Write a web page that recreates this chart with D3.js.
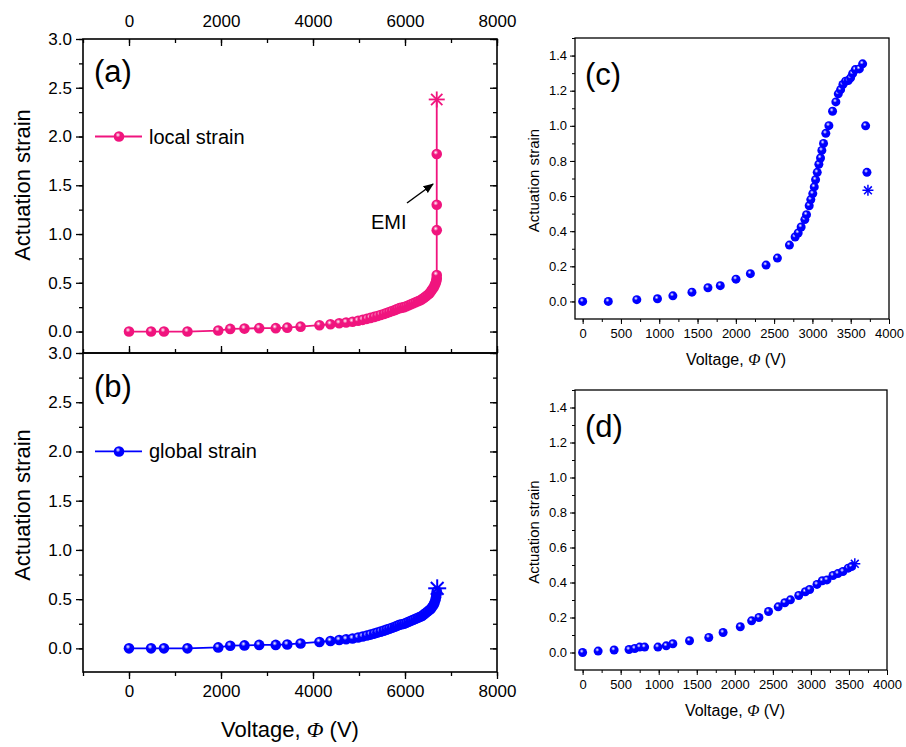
<!DOCTYPE html>
<html>
<head>
<meta charset="utf-8">
<script src="https://cdn.jsdelivr.net/npm/d3@7"></script>
<style>
  body { margin: 0; background: #fff; }
  text { font-family: Arial, "Liberation Sans", sans-serif; fill: #000; }
</style>
</head>
<body>
<svg id="fig" width="906" height="747"></svg>
<script>
// ---- data ----
// (a) local strain, (b) global strain vs voltage
let voltAB = [0, 480, 760, 1270, 1940, 2200, 2510, 2830, 3190, 3440, 3730, 4140, 4380, 4570, 4720,
  4860, 4980, 5080, 5170, 5250, 5330, 5400, 5470, 5540, 5600, 5660, 5720, 5780, 5830, 5880, 5930,
  5980, 6030, 6080, 6130, 6180, 6230, 6280, 6330, 6370, 6410, 6450, 6490, 6530, 6560, 6590, 6620,
  6640, 6660, 6675, 6685, 6690];
let localStrain = [0, 0, 0, 0, 0.01, 0.027, 0.03, 0.035, 0.035, 0.04, 0.05, 0.065, 0.075, 0.085, 0.093,
  0.10, 0.11, 0.12, 0.13, 0.14, 0.15, 0.16, 0.17, 0.18, 0.19, 0.20, 0.21, 0.22, 0.23, 0.24, 0.245,
  0.25, 0.26, 0.27, 0.28, 0.29, 0.30, 0.31, 0.32, 0.33, 0.345, 0.36, 0.375, 0.39, 0.41, 0.43, 0.45,
  0.47, 0.49, 0.51, 0.53, 0.55];
let localJumpV = [6690, 6690, 6690, 6690];
let localJump = [0.58, 1.04, 1.30, 1.82];
let localFail = [6690, 2.38];
let globalStrain = [0, 0, 0, 0, 0.01, 0.027, 0.03, 0.035, 0.035, 0.04, 0.05, 0.065, 0.075, 0.085, 0.093,
  0.10, 0.11, 0.12, 0.13, 0.14, 0.15, 0.16, 0.17, 0.18, 0.19, 0.20, 0.21, 0.22, 0.23, 0.24, 0.245,
  0.25, 0.26, 0.27, 0.28, 0.29, 0.30, 0.31, 0.32, 0.33, 0.345, 0.36, 0.375, 0.39, 0.40, 0.42, 0.44,
  0.46, 0.49, 0.52, 0.55, 0.58];
let globalFail = [6700, 0.61];

// (c)
let voltC = [0, 335, 707, 977, 1178, 1427, 1636, 1797, 2002, 2190, 2395, 2543, 2700, 2774, 2814, 2853,
  2901, 2923, 2958, 2979, 3005, 3024, 3041, 3063, 3084, 3106, 3123, 3145, 3175, 3215, 3263, 3306,
  3338, 3368, 3398, 3433, 3468, 3499, 3525, 3560, 3613, 3656, 3695, 3712];
let strainC = [0, 0, 0.01, 0.015, 0.032, 0.053, 0.078, 0.09, 0.127, 0.158, 0.207, 0.247, 0.321, 0.367, 0.39, 0.424,
  0.466, 0.494, 0.545, 0.58, 0.614, 0.652, 0.693, 0.735, 0.781, 0.817, 0.86, 0.9, 0.957, 1.001, 1.083, 1.136,
  1.182, 1.206, 1.235, 1.254, 1.258, 1.273, 1.297, 1.32, 1.324, 1.353, 1.0, 0.735];
let failC = [3725, 0.633];

// (d)
let voltD = [0, 204, 414, 610, 685, 750, 815, 990, 1099, 1186, 1405, 1658, 1846, 2072, 2221, 2317, 2443,
  2570, 2657, 2731, 2840, 2927, 2984, 3080, 3150, 3211, 3290, 3355, 3421, 3490, 3534];
let strainD = [0, 0.008, 0.014, 0.017, 0.023, 0.031, 0.031, 0.031, 0.038, 0.05, 0.067, 0.086, 0.114, 0.147, 0.181, 0.2, 0.234,
  0.261, 0.284, 0.301, 0.326, 0.347, 0.36, 0.389, 0.41, 0.415, 0.44, 0.451, 0.463, 0.482, 0.491];
let failD = [3577, 0.507];

let ticksAB = [0, 2000, 4000, 6000, 8000];
let ticksYAB = [0, 0.5, 1, 1.5, 2, 2.5, 3];
let ticksCD = [0, 500, 1000, 1500, 2000, 2500, 3000, 3500, 4000];
let ticksYCD = [0, 0.2, 0.4, 0.6, 0.8, 1.0, 1.2, 1.4];

const PINK = '#f0147e', BLUE = '#0000ff';
const svg = d3.select('#fig');

// sphere-looking markers
const defs = svg.append('defs');
function grad(id, col) {
  let g = defs.append('radialGradient').attr('id', id)
    .attr('cx', '40%').attr('cy', '35%').attr('r', '65%');
  g.append('stop').attr('offset', '0%').attr('stop-color', '#fff');
  g.append('stop').attr('offset', '35%').attr('stop-color', col);
  g.append('stop').attr('offset', '100%').attr('stop-color', col);
}
grad('gPink', PINK);
grad('gBlue', BLUE);

let fmt1 = d3.format('.1f');

function star(g, x, y, r, col, w) {
  [0, 45, 90, 135].forEach(a => {
    let t = a * Math.PI / 180;
    g.append('line').attr('x1', x - r * Math.cos(t)).attr('y1', y - r * Math.sin(t))
      .attr('x2', x + r * Math.cos(t)).attr('y2', y + r * Math.sin(t))
      .attr('stroke', col).attr('stroke-width', w);
  });
}

function voltLabel(x, y, size) {
  let t = svg.append('text').attr('x', x).attr('y', y).attr('text-anchor', 'middle')
    .style('font-size', size + 'px');
  t.append('tspan').text('Voltage, ');
  t.append('tspan').style('font-style', 'italic').style('font-family', '"Liberation Serif", serif').text('Φ');
  t.append('tspan').text(' (V)');
}

function yTitle(x, y, size) {
  svg.append('text').attr('transform', `translate(${x},${y}) rotate(-90)`)
    .attr('text-anchor', 'middle').style('font-size', size + 'px').text('Actuation strain');
}

// ---------- (a) and (b) ----------
let xAB = d3.scaleLinear().domain([-1000, 8000]).range([83, 497]);
let yA = d3.scaleLinear().domain([-0.22, 3.0]).range([353, 39]);
let yB = d3.scaleLinear().domain([-0.24, 3.0]).range([672, 353]);
let minorX = d3.range(-1000, 8001, 1000);
let minorY = d3.range(-0.0, 3.01, 0.25);

function panelAB(y, opt) {
  let g = svg.append('g');
  let [x0, x1] = xAB.range(), [y0, y1] = y.range();
  // left, outward
  g.append('g').attr('transform', `translate(${x0},0)`)
    .call(d3.axisLeft(y).tickValues(minorY).tickSize(4).tickFormat(''));
  g.append('g').attr('transform', `translate(${x0},0)`)
    .call(d3.axisLeft(y).tickValues(ticksYAB).tickSize(7).tickPadding(4).tickFormat(fmt1))
    .selectAll('text').style('font-size', '17px');
  // right, inward
  g.append('g').attr('transform', `translate(${x1},0)`)
    .call(d3.axisLeft(y).tickValues(minorY).tickSize(4).tickFormat(''));
  g.append('g').attr('transform', `translate(${x1},0)`)
    .call(d3.axisLeft(y).tickValues(ticksYAB).tickSize(7).tickFormat(''));
  if (opt.top) {
    g.append('g').attr('transform', `translate(0,${y1})`)
      .call(d3.axisBottom(xAB).tickValues(minorX).tickSize(4).tickFormat(''));
    g.append('g').attr('transform', `translate(0,${y1})`)
      .call(d3.axisBottom(xAB).tickValues(ticksAB).tickSize(7).tickFormat(''));
    svg.append('g').attr('transform', `translate(0,${y1 - 12})`)
      .call(d3.axisTop(xAB).tickValues(ticksAB).tickSize(0).tickPadding(0).tickFormat(d3.format('d')))
      .call(a => a.select('.domain').remove())
      .selectAll('text').style('font-size', '17px');
    g.append('g').attr('transform', `translate(0,${y0})`)
      .call(d3.axisTop(xAB).tickValues(minorX).tickSize(4).tickFormat(''));
    g.append('g').attr('transform', `translate(0,${y0})`)
      .call(d3.axisTop(xAB).tickValues(ticksAB).tickSize(7).tickFormat(''));
  } else {
    g.append('g').attr('transform', `translate(0,${y0})`)
      .call(d3.axisBottom(xAB).tickValues(minorX).tickSize(4).tickFormat(''));
    g.append('g').attr('transform', `translate(0,${y0})`)
      .call(d3.axisBottom(xAB).tickValues(ticksAB).tickSize(7).tickPadding(6).tickFormat(d3.format('d')))
      .selectAll('text').style('font-size', '17px');
  }
  g.selectAll('.domain').remove();
  g.selectAll('.tick line').attr('stroke', '#000').attr('stroke-width', 1.3);
  g.append('rect').attr('x', x0).attr('y', y1).attr('width', x1 - x0).attr('height', y0 - y1)
    .attr('fill', 'none').attr('stroke', '#000').attr('stroke-width', 1.6);
  return g;
}

// panel (a)
let gA = panelAB(yA, { top: true });
let ptsA = voltAB.map((v, i) => [v, localStrain[i]])
  .concat(localJumpV.map((v, i) => [v, localJump[i]]));
let lineA = d3.line().x(d => xAB(d[0])).y(d => yA(d[1]));
gA.append('path').datum(ptsA.concat([localFail])).attr('d', lineA)
  .attr('fill', 'none').attr('stroke', PINK).attr('stroke-width', 1.8);
gA.selectAll('circle.p').data(ptsA).enter().append('circle')
  .attr('cx', d => xAB(d[0])).attr('cy', d => yA(d[1])).attr('r', 5.3)
  .attr('fill', 'url(#gPink)');
star(gA, xAB(localFail[0]), yA(localFail[1]), 8, PINK, 1.8);
svg.append('text').attr('x', 94).attr('y', 82).style('font-size', '31px').text('(a)');
// legend (a)
gA.append('line').attr('x1', 95).attr('x2', 142).attr('y1', yA(2)).attr('y2', yA(2))
  .attr('stroke', PINK).attr('stroke-width', 1.8);
gA.append('circle').attr('cx', 119).attr('cy', yA(2)).attr('r', 5.3).attr('fill', 'url(#gPink)');
svg.append('text').attr('x', 149).attr('y', yA(2) + 7).style('font-size', '20px').text('local strain');
// EMI arrow
defs.append('marker').attr('id', 'arr').attr('viewBox', '0 0 10 10').attr('refX', 9).attr('refY', 5)
  .attr('markerWidth', 7).attr('markerHeight', 7).attr('orient', 'auto')
  .append('path').attr('d', 'M0,1 L10,5 L0,9 Z').attr('fill', '#000');
svg.append('line').attr('x1', 407).attr('y1', 203).attr('x2', 433).attr('y2', 184)
  .attr('stroke', '#000').attr('stroke-width', 1.5).attr('marker-end', 'url(#arr)');
svg.append('text').attr('x', 371).attr('y', 229).style('font-size', '20px').text('EMI');

// panel (b)
let gB = panelAB(yB, { top: false });
let ptsB = voltAB.map((v, i) => [v, globalStrain[i]]);
let lineB = d3.line().x(d => xAB(d[0])).y(d => yB(d[1]));
gB.append('path').datum(ptsB.concat([globalFail])).attr('d', lineB)
  .attr('fill', 'none').attr('stroke', BLUE).attr('stroke-width', 1.8);
gB.selectAll('circle.p').data(ptsB).enter().append('circle')
  .attr('cx', d => xAB(d[0])).attr('cy', d => yB(d[1])).attr('r', 5.3)
  .attr('fill', 'url(#gBlue)');
star(gB, xAB(globalFail[0]), yB(globalFail[1]), 9, BLUE, 2);
svg.append('text').attr('x', 94).attr('y', 397).style('font-size', '31px').text('(b)');
gB.append('line').attr('x1', 95).attr('x2', 142).attr('y1', yB(2)).attr('y2', yB(2))
  .attr('stroke', BLUE).attr('stroke-width', 1.8);
gB.append('circle').attr('cx', 119).attr('cy', yB(2)).attr('r', 5.3).attr('fill', 'url(#gBlue)');
svg.append('text').attr('x', 149).attr('y', yB(2) + 7).style('font-size', '20px').text('global strain');

yTitle(30, 185, 22);
yTitle(30, 505, 22);
voltLabel(290, 737, 22);

// ---------- (c) and (d) ----------
function panelCD(top, bottom, right, volt, strain, fail, label) {
  let x = d3.scaleLinear().domain([-100, 4000]).range([575, right]);
  let y = d3.scaleLinear().domain([-0.1, 1.5]).range([bottom, top]);
  let g = svg.append('g');
  g.append('g').attr('transform', `translate(575,0)`)
    .call(d3.axisLeft(y).tickValues(d3.range(0, 1.51, 0.1)).tickSize(3).tickFormat(''));
  g.append('g').attr('transform', `translate(575,0)`)
    .call(d3.axisLeft(y).tickValues(ticksYCD).tickSize(5).tickPadding(3).tickFormat(fmt1))
    .selectAll('text').style('font-size', '13px');
  g.append('g').attr('transform', `translate(0,${bottom})`)
    .call(d3.axisBottom(x).tickValues(d3.range(0, 4001, 250)).tickSize(3).tickFormat(''));
  g.append('g').attr('transform', `translate(0,${bottom})`)
    .call(d3.axisBottom(x).tickValues(ticksCD).tickSize(5).tickPadding(5).tickFormat(d3.format('d')))
    .selectAll('text').style('font-size', '13px');
  g.selectAll('.domain').remove();
  g.selectAll('.tick line').attr('stroke', '#000');
  g.append('rect').attr('x', 575).attr('y', top).attr('width', right - 575).attr('height', bottom - top)
    .attr('fill', 'none').attr('stroke', '#000').attr('stroke-width', 1.3);
  let pts = volt.map((v, i) => [v, strain[i]]);
  g.selectAll('circle.p').data(pts).enter().append('circle')
    .attr('cx', d => x(d[0])).attr('cy', d => y(d[1])).attr('r', 4.5)
    .attr('fill', 'url(#gBlue)');
  star(g, x(fail[0]), y(fail[1]), 5.5, BLUE, 1.5);
  svg.append('text').attr('x', 585).attr('y', top + 47).style('font-size', '31px').text(label);
  yTitle(539, (top + bottom) / 2 + 2, 15);
  voltLabel((575 + right) / 2 + 4, bottom + 46, 16);
}
panelCD(38, 319, 889, voltC, strainC, failC, '(c)');
panelCD(390, 670, 887, voltD, strainD, failD, '(d)');
</script>
</body>
</html>
